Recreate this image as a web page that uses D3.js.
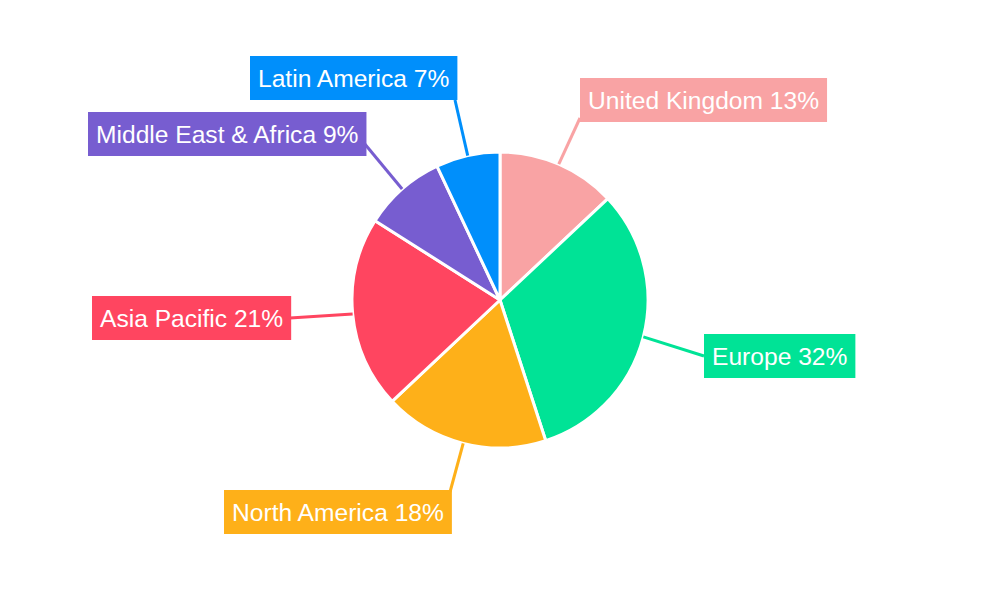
<!DOCTYPE html>
<html><head><meta charset="utf-8">
<script src="https://cdn.jsdelivr.net/npm/d3@7"></script>
<style>body{margin:0;background:#fff}</style></head>
<body><svg id="c" width="1000" height="600"></svg>
<script>
const categories = ["United Kingdom","Europe","North America","Asia Pacific","Middle East & Africa","Latin America"];
const values = [13,32,18,21,9,7];
const colors = ["#f9a3a4","#00e396","#feb019","#ff4560","#775dd0","#008ffb"];
// label box layout: [left, centerY, lineEndX, lineEndY]
const labelLayout = [[580,100,580,118],[704,356,704,356],[224,512,450,492],[92,318,290,318],[88,134,364,143],[250,78,455,100]];

const svg = d3.select("#c");
const cx=500, cy=300, r=148;
const pie = d3.pie().sort(null).value(d=>d)(values);
const arc = d3.arc().innerRadius(0).outerRadius(r);
const g = svg.append("g").attr("transform",`translate(${cx},${cy})`);
g.selectAll("path").data(pie).join("path").attr("d",arc)
 .attr("fill",(d,i)=>colors[i]).attr("stroke","#fff").attr("stroke-width",3).attr("stroke-linejoin","round");

pie.forEach((d,i)=>{
  const a=(d.startAngle+d.endAngle)/2;
  const sx=cx+Math.sin(a)*r, sy=cy-Math.cos(a)*r;
  const L=labelLayout[i];
  svg.append("line").attr("x1",sx).attr("y1",sy).attr("x2",L[2]).attr("y2",L[3])
    .attr("stroke",colors[i]).attr("stroke-width",3);
});
pie.forEach((d,i)=>{
  const L=labelLayout[i];
  const t=svg.append("text").attr("x",L[0]+8).attr("y",L[1]).attr("dy","0.35em")
    .attr("font-family","Liberation Sans, Arial, sans-serif").attr("font-size",24.6).attr("fill","#fff")
    .text(`${categories[i]} ${values[i]}%`);
  const w=t.node().getComputedTextLength();
  svg.insert("rect","text").attr("x",L[0]).attr("y",L[1]-22).attr("width",w+16).attr("height",44).attr("fill",colors[i]);
});
</script></body></html>
